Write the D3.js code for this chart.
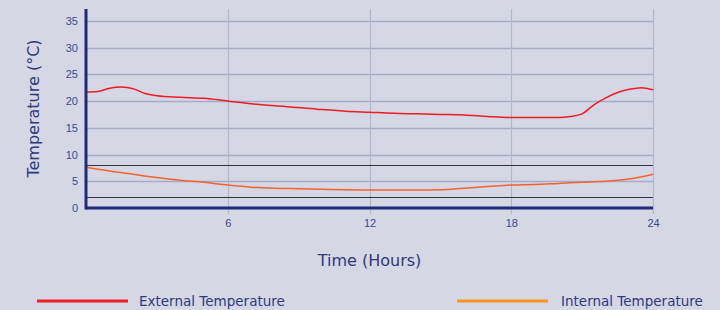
<!DOCTYPE html>
<html>
<head>
<meta charset="utf-8">
<script src="https://cdn.jsdelivr.net/npm/d3@7"></script>
<style>
  body { margin: 0; background: #d5d7e4; }
  svg { display: block; font-family: "DejaVu Sans", Verdana, sans-serif; }
</style>
</head>
<body>
<div id="chart"></div>
<script>
// Hours of the day
const hours = [0, 0.5, 1, 1.5, 2, 2.5, 3, 4, 5, 6, 7, 8, 9, 10, 11, 12, 13, 14, 15, 16, 17, 18, 19, 20, 20.5, 21, 21.5, 22, 22.5, 23, 23.5, 24];
const externalTemp = [21.7, 21.8, 22.4, 22.6, 22.3, 21.4, 21.0, 20.7, 20.5, 20.0, 19.5, 19.1, 18.8, 18.4, 18.1, 17.9, 17.7, 17.6, 17.5, 17.4, 17.1, 16.9, 16.9, 16.9, 17.1, 17.6, 19.3, 20.6, 21.6, 22.2, 22.5, 22.1];

const internalHours = [0, 1, 2, 3, 4, 5, 6, 7, 8, 9, 10, 11, 12, 13, 14, 15, 16, 17, 18, 19, 20, 21, 22, 23, 24];
const internalTemp = [7.6, 6.9, 6.3, 5.7, 5.2, 4.8, 4.3, 3.9, 3.7, 3.6, 3.5, 3.4, 3.35, 3.35, 3.35, 3.4, 3.7, 4.0, 4.3, 4.4, 4.6, 4.8, 5.0, 5.4, 6.3];

// Threshold reference lines
const thresholds = [8, 2];

const xTicks = [6, 12, 18, 24];
const yTicks = [0, 5, 10, 15, 20, 25, 30, 35];

const legendItems = [
  { label: "External Temperature", color: "#ee1f2b" },
  { label: "Internal Temperature", color: "#f7941d" }
];

const W = 720, H = 310;
const margin = { top: 9, right: 67, bottom: 102, left: 86 };
const width = W - margin.left - margin.right;
const height = H - margin.top - margin.bottom;

const svg = d3.select("#chart").append("svg")
  .attr("width", W).attr("height", H);

const g = svg.append("g").attr("transform", `translate(${margin.left},${margin.top})`);

const x = d3.scaleLinear().domain([0, 24]).range([0, width]);
const y = d3.scaleLinear().domain([0, 37.2]).range([height, 0]);

// Horizontal grid
g.append("g")
  .selectAll("line")
  .data(yTicks.filter(d => d > 0))
  .join("line")
  .attr("x1", 0).attr("x2", width)
  .attr("y1", d => Math.round(y(d)) + 0.5).attr("y2", d => Math.round(y(d)) + 0.5)
  .attr("stroke", "#a7aac8").attr("stroke-width", 1.3);

// Vertical grid
g.append("g")
  .selectAll("line")
  .data(xTicks)
  .join("line")
  .attr("x1", d => Math.round(x(d)) + 0.5).attr("x2", d => Math.round(x(d)) + 0.5)
  .attr("y1", 0).attr("y2", height + 6)
  .attr("stroke", "#b3b6cf").attr("stroke-width", 1.2);

// Threshold lines
g.append("g")
  .selectAll("line")
  .data(thresholds)
  .join("line")
  .attr("x1", 0).attr("x2", width)
  .attr("y1", d => Math.round(y(d)) + 0.5).attr("y2", d => Math.round(y(d)) + 0.5)
  .attr("stroke", "#333340").attr("stroke-width", 1.2);

// Lines
const extLine = d3.line()
  .x((d, i) => x(hours[i]))
  .y(d => y(d))
  .curve(d3.curveMonotoneX);

g.append("path")
  .datum(externalTemp)
  .attr("fill", "none")
  .attr("stroke", "#ee1c25")
  .attr("stroke-width", 1.5)
  .attr("d", extLine);

const intLine = d3.line()
  .x((d, i) => x(internalHours[i]))
  .y(d => y(d))
  .curve(d3.curveMonotoneX);

g.append("path")
  .datum(internalTemp)
  .attr("fill", "none")
  .attr("stroke", "#f3632e")
  .attr("stroke-width", 1.5)
  .attr("d", intLine);

// Axes
const xAxis = g.append("g")
  .attr("transform", `translate(0,${height})`)
  .call(d3.axisBottom(x).tickValues(xTicks).tickSize(0).tickPadding(11));
xAxis.select(".domain").remove();
xAxis.selectAll("text").attr("fill", "#3a4a8a").style("font-size", "11px");

const yAxis = g.append("g")
  .call(d3.axisLeft(y).tickValues(yTicks).tickSize(0).tickPadding(8));
yAxis.select(".domain").remove();
yAxis.selectAll("text").attr("fill", "#3a4a8a").style("font-size", "11px");

// Thick axis lines
g.append("line")
  .attr("x1", 0).attr("x2", 0).attr("y1", 0).attr("y2", height + 1.5)
  .attr("stroke", "#1f2b78").attr("stroke-width", 3);
g.append("line")
  .attr("x1", 0).attr("x2", width).attr("y1", height).attr("y2", height)
  .attr("stroke", "#1f2b78").attr("stroke-width", 3);

// Axis titles
svg.append("text")
  .attr("transform", `translate(39,${margin.top + height / 2}) rotate(-90)`)
  .attr("text-anchor", "middle")
  .attr("fill", "#2d3a7c")
  .style("font-size", "16px")
  .text("Temperature (°C)");

svg.append("text")
  .attr("x", margin.left + width / 2)
  .attr("y", 266)
  .attr("text-anchor", "middle")
  .attr("fill", "#2d3a7c")
  .style("font-size", "16px")
  .text("Time (Hours)");

// Legend
const legendX = [37, 457];
const legend = svg.append("g")
  .selectAll("g")
  .data(legendItems)
  .join("g")
  .attr("transform", (d, i) => `translate(${legendX[i]},301)`);

legend.append("line")
  .attr("x1", 0).attr("x2", 91)
  .attr("stroke", d => d.color).attr("stroke-width", 3);

legend.append("text")
  .attr("x", (d, i) => i === 0 ? 102 : 104).attr("y", 5)
  .attr("fill", "#2d3a7c")
  .style("font-size", "13.5px")
  .text(d => d.label);
</script>
</body>
</html>
